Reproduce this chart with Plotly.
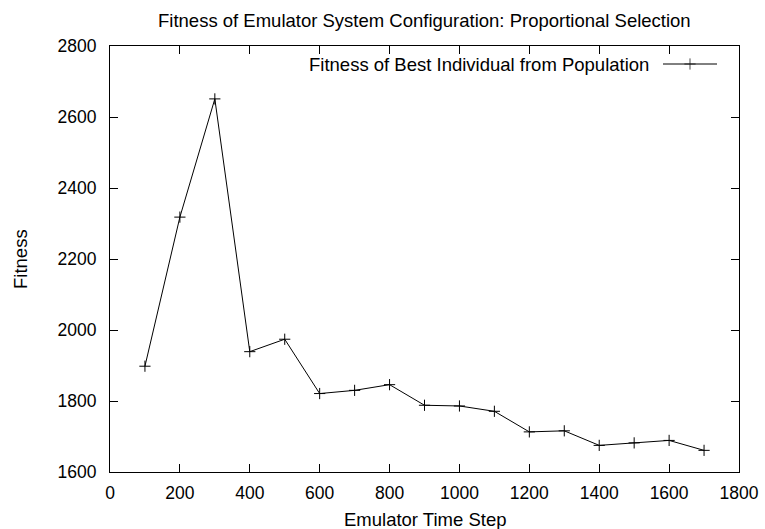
import plotly.graph_objects as go

time_steps = [100, 200, 300, 400, 500, 600, 700, 800, 900, 1000, 1100, 1200, 1300, 1400, 1500, 1600, 1700]
best_fitness = [1898, 2318, 2651, 1939, 1974, 1821, 1830, 1846, 1788, 1786, 1771, 1713, 1716, 1675, 1682, 1689, 1661]

x_ticks = [0, 200, 400, 600, 800, 1000, 1200, 1400, 1600, 1800]
y_ticks = [1600, 1800, 2000, 2200, 2400, 2600, 2800]

title_text = "Fitness of Emulator System Configuration: Proportional Selection"
series_name = "Fitness of Best Individual from Population"
x_label = "Emulator Time Step"
y_label = "Fitness"

FONT = "Liberation Sans, Arial, sans-serif"
FS_TICK = 17.5
FS_TEXT = 18.5
W, H = 765, 529
# plot area in page pixels: left 110, right 739, top 46, bottom 472
PL, PR, PT, PB = 110, 739, 46, 472
L, T, R, B = PL, PT, W - PR, H - PB
pw, ph = PR - PL, PB - PT

def px_x(p):
    return (p - PL) / pw

def px_y(p):
    return (PB - p) / ph

fig = go.Figure()
fig.add_trace(go.Scatter(
    x=time_steps, y=best_fitness, mode="lines+markers", name=series_name,
    line=dict(color="black", width=1),
    marker=dict(symbol="cross-thin", size=8, color="black", line=dict(color="black", width=1)),
    showlegend=False,
))
# legend key (gnuplot style: text left, sample right)
fig.add_trace(go.Scatter(
    x=[px_x(663), px_x(690), px_x(717)], y=[px_y(64)] * 3, xaxis="x2", yaxis="y2",
    mode="lines+markers", line=dict(color="black", width=1),
    marker=dict(symbol="cross-thin", size=[0, 8, 0], color="black", line=dict(color="black", width=1)),
    showlegend=False, hoverinfo="skip",
))

axis_common = dict(
    showgrid=False, zeroline=False, showline=True, linecolor="black", linewidth=1,
    mirror="ticks", ticks="inside", ticklen=8, tickcolor="black", tickwidth=1,
    automargin=False,
    tickfont=dict(family=FONT, size=FS_TICK, color="black"),
)

fig.update_layout(
    template="none",
    width=W, height=H,
    margin=dict(l=L, r=R, t=T, b=B, pad=0, autoexpand=False),
    paper_bgcolor="white", plot_bgcolor="white",
    xaxis=dict(range=[0, 1800], tickvals=x_ticks, ticktext=[str(v) for v in x_ticks],
               ticklabelstandoff=5, **axis_common),
    yaxis=dict(range=[1600, 2800], tickvals=y_ticks, ticktext=[str(v) for v in y_ticks],
               ticklabelstandoff=9, **axis_common),
    xaxis2=dict(range=[0, 1], overlaying="x", visible=False, fixedrange=True, automargin=False),
    yaxis2=dict(range=[0, 1], overlaying="y", visible=False, fixedrange=True, automargin=False),
    showlegend=False,
    annotations=[
        dict(text=title_text, xref="paper", yref="paper", x=0.5, y=px_y(20),
             xanchor="center", yanchor="middle", showarrow=False,
             font=dict(family=FONT, size=FS_TEXT, color="black")),
        dict(text=x_label, xref="paper", yref="paper", x=0.5, y=px_y(519),
             xanchor="center", yanchor="middle", showarrow=False,
             font=dict(family=FONT, size=FS_TEXT, color="black")),
        dict(text=y_label, xref="paper", yref="paper", x=px_x(20), y=0.5, textangle=-90,
             xanchor="center", yanchor="middle", showarrow=False,
             font=dict(family=FONT, size=FS_TEXT, color="black")),
        dict(text=series_name, xref="paper", yref="paper", x=px_x(651), y=px_y(64),
             xanchor="right", yanchor="middle", showarrow=False,
             font=dict(family=FONT, size=FS_TEXT, color="black")),
    ],
)

fig.write_html(
    "out.html",
    config={"displayModeBar": False},
    post_script="document.body.style.margin='0';document.body.style.overflow='hidden';",
)
